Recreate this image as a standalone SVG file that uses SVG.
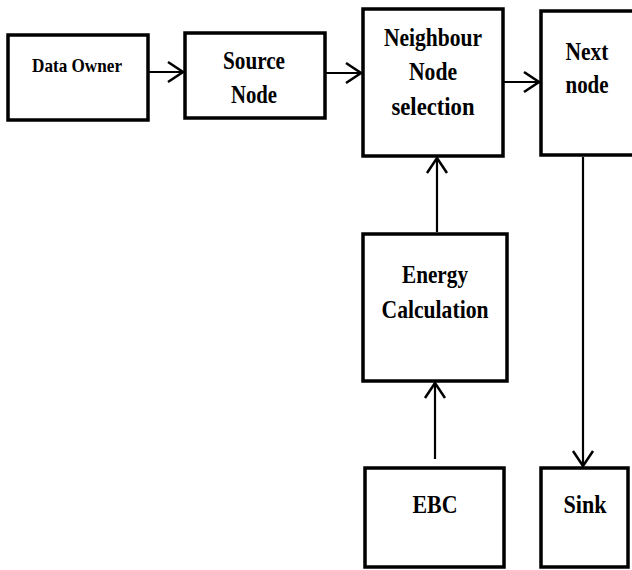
<svg xmlns="http://www.w3.org/2000/svg" width="632" height="570" viewBox="0 0 632 570">
<style>
.box{fill:#fff;stroke:#000;stroke-width:3.5}
text{font-family:'Liberation Serif','DejaVu Serif',serif;font-weight:bold;font-size:26px;fill:#000;text-anchor:middle}
.small{font-size:19px}
.conn{stroke:#000;stroke-width:2.2;fill:none}
</style>
<defs>
<marker id="arr" viewBox="-17 -12 19 24" refX="0" refY="0" markerWidth="19" markerHeight="24" markerUnits="userSpaceOnUse" orient="auto">
<path d="M-15,-10 L0,0 L-15,10" fill="none" stroke="#000" stroke-width="2.5"/>
</marker>
</defs>
<rect width="632" height="570" fill="#fff"/>
<g id="data-owner">
<rect class="box" x="8" y="35" width="140" height="85"/>
<text class="small" font-family="Liberation Serif, serif" x="77" y="72" textLength="90" lengthAdjust="spacingAndGlyphs">Data Owner</text>
</g>
<g id="source-node">
<rect class="box" x="185" y="33" width="140" height="85"/>
<text x="254" y="69" textLength="62" lengthAdjust="spacingAndGlyphs">Source</text>
<text x="254" y="103" textLength="46" lengthAdjust="spacingAndGlyphs">Node</text>
</g>
<g id="neighbour-node-selection">
<rect class="box" x="363" y="9" width="140" height="147"/>
<text x="433" y="46" textLength="98" lengthAdjust="spacingAndGlyphs">Neighbour</text>
<text x="433" y="80" textLength="48" lengthAdjust="spacingAndGlyphs">Node</text>
<text x="433" y="115" textLength="83" lengthAdjust="spacingAndGlyphs">selection</text>
</g>
<g id="next-node">
<rect class="box" x="541" y="11" width="93" height="144"/>
<text x="587" y="60" textLength="43" lengthAdjust="spacingAndGlyphs">Next</text>
<text x="587" y="93" textLength="43" lengthAdjust="spacingAndGlyphs">node</text>
</g>
<g id="energy-calculation">
<rect class="box" x="363" y="234" width="144" height="147"/>
<text x="435" y="283" textLength="66" lengthAdjust="spacingAndGlyphs">Energy</text>
<text x="435" y="318" textLength="107" lengthAdjust="spacingAndGlyphs">Calculation</text>
</g>
<g id="ebc">
<rect class="box" x="365" y="468" width="139" height="99"/>
<text x="435" y="513" textLength="45" lengthAdjust="spacingAndGlyphs">EBC</text>
</g>
<g id="sink">
<rect class="box" x="541" y="468" width="87" height="99"/>
<text x="585" y="513" textLength="43" lengthAdjust="spacingAndGlyphs">Sink</text>
</g>
<g id="connectors">
<line class="conn" x1="149" y1="72" x2="183" y2="72" marker-end="url(#arr)"/>
<line class="conn" x1="326" y1="73" x2="361" y2="73" marker-end="url(#arr)"/>
<line class="conn" x1="504" y1="82" x2="539" y2="82" marker-end="url(#arr)"/>
<line class="conn" x1="437" y1="232" x2="437" y2="158" marker-end="url(#arr)"/>
<line class="conn" x1="435" y1="459" x2="435" y2="383" marker-end="url(#arr)"/>
<line class="conn" x1="583" y1="157" x2="583" y2="466" marker-end="url(#arr)"/>
</g>
</svg>
